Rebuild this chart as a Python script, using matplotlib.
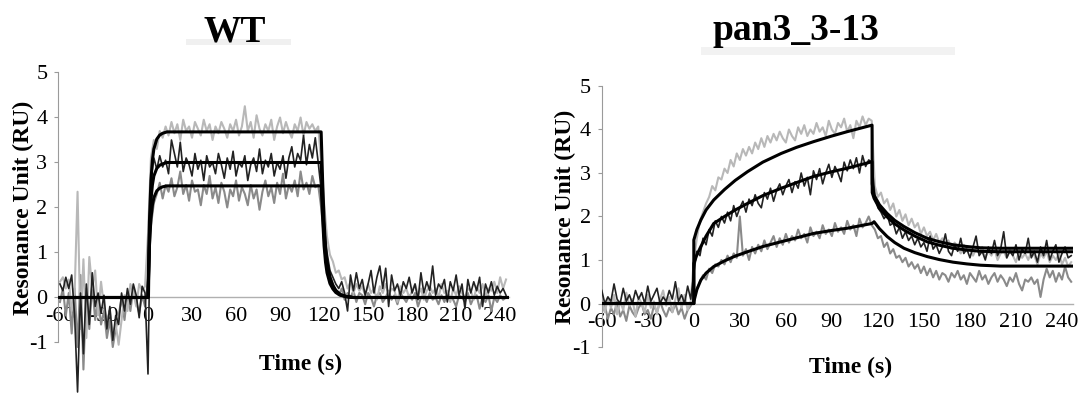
import numpy as np
import matplotlib
matplotlib.use("Agg")
import matplotlib.pyplot as plt
from matplotlib.patches import Rectangle

plt.rcParams['font.family'] = ['Liberation Serif', 'DejaVu Serif']
plt.rcParams['axes.unicode_minus'] = False

# ---------------- WT panel ----------------
t_wt = np.arange(-60, 246, 2)

# light gray trace (high)
wt_hi = [0.35, 0.45, 0.2, 0.4, -0.3, 0.1, 2.35, -0.7, 0.85, -0.9,
         0.9, 0.2, 0.6, -0.4, 0.35, -0.2, -0.5, -0.3, -0.8, -0.6,
         -1.05, -0.5, 0.05, -0.3, 0.3, 0.1, -0.2, 0.3, 0.15, 0.25,
         1.4, 3.1, 3.5, 3.3, 3.7, 3.55, 3.8, 3.6, 3.9, 3.65,
         3.85, 3.5, 3.95, 3.7, 3.8, 3.55, 3.9, 3.75, 3.6, 3.95,
         3.7, 3.85, 3.5, 3.8, 3.65, 3.9, 3.75, 3.55, 3.85, 3.7,
         3.95, 3.6, 3.8, 4.25, 3.7, 3.9, 3.55, 4.05, 3.75, 3.6,
         3.85, 3.7, 3.95, 3.5, 3.8, 4.0, 3.65, 3.9, 3.7, 3.55,
         3.85, 3.7, 4.0, 3.6, 3.9, 3.75, 3.85, 3.7, 3.8,
         3.0, 2.1, 1.35, 0.95, 0.8, 0.55, 0.6, 0.4, 0.45, 0.2,
         0.35, 0.1, 0.3, 0.15, 0.25, 0.05, 0.3, 0.1, 0.2, -0.05,
         0.25, 0.1, 0.3, 0.05, 0.2, 0.15, -0.1, 0.25, 0.1, 0.2,
         0.0, 0.15, 0.3, 0.05, 0.2, -0.05, 0.15, 0.25, 0.1, 0.2,
         0.0, 0.3, 0.1, 0.15, -0.1, 0.2, 0.05, 0.25, 0.1, 0.0,
         0.2, 0.15, -0.05, 0.25, 0.1, 0.3, 0.0, 0.2, 0.15, 0.35,
         0.1, 0.45, 0.2, 0.4]

# black trace (middle)
wt_mid = [0.3, 0.15, 0.45, 0.2, 0.5, -0.4, -2.1, 0.1, -1.25, 0.3,
          -0.6, 0.55, -0.2, 0.1, -0.35, 0.05, -0.7, -0.2, -0.95, -0.4,
          -0.6, 0.1, -0.3, 0.2, -0.15, 0.3, 0.05, -0.45, 0.25, 0.1,
          -1.7, 2.6, 3.1, 2.85, 3.15, 2.9, 3.05, 2.75, 3.5, 3.2,
          2.9, 3.45, 2.8, 3.1, 2.95, 2.7, 3.2, 2.85, 3.05, 2.6,
          3.15, 2.9, 3.0, 2.75, 3.2, 2.95, 2.65, 3.1, 2.85, 3.25,
          2.7, 3.0, 2.9, 3.15, 2.6, 2.95, 3.1, 2.8, 3.3, 2.75,
          3.05, 2.9, 3.2, 2.7, 3.0, 2.85, 3.15, 2.65, 3.1, 3.35,
          2.9, 3.2, 3.05, 3.6, 2.95, 3.4, 3.1, 3.55, 3.0,
          2.4, 1.6, 1.0, 0.6, 0.45, 0.3, 0.2, 0.35, 0.1, -0.3,
          0.5, 0.15, 0.55, 0.2, 0.4, 0.05, 0.3, 0.6, 0.1, 0.45,
          0.7, 0.2, 0.65, -0.2, 0.5, 0.15, 0.3, 0.05, 0.35, 0.2,
          0.45, 0.1, 0.3, -0.05, 0.55, 0.1, 0.35, 0.15, 0.7, 0.05,
          0.3, 0.2, 0.4, -0.1, 0.35, 0.15, 0.5, 0.05, 0.3, -0.25,
          0.4, 0.1, 0.35, 0.15, 0.45, -0.2, 0.3, 0.1, 0.35, 0.05,
          0.25, 0.1, 0.2, 0.05]

# gray trace (low)
wt_lo = [-0.1, 0.2, -0.4, 0.1, -0.8, 0.2, -1.1, 0.5, -1.6, 0.2,
         -0.7, 0.3, -0.5, 0.0, -0.6, -0.3, -0.9, -0.5, -1.1, -0.7,
         -0.4, 0.0, -0.5, 0.1, -0.3, 0.2, -0.1, -0.35, 0.05, -0.2,
         0.4, 1.6, 2.1, 2.3, 2.55, 2.2, 2.5, 2.35, 2.65, 2.25,
         2.45, 2.8, 2.3, 2.5, 2.15, 2.6, 2.35, 2.4, 2.05, 2.5,
         2.3, 2.7, 2.2, 2.45, 2.1, 2.55, 2.35, 2.0, 2.4, 2.25,
         2.6, 2.15, 2.45, 2.3, 2.05, 2.5, 2.2, 2.4, 1.95, 2.35,
         2.6, 2.25, 2.45, 2.1, 2.55, 2.3, 2.75, 2.2, 2.5, 2.35,
         2.6, 2.25, 2.8, 2.4, 2.55, 2.3, 2.7, 2.45, 2.5,
         2.0, 1.3, 0.8, 0.5, 0.3, 0.15, 0.05, 0.2, -0.05, 0.1,
         0.0, 0.15, -0.1, 0.1, 0.05, -0.15, 0.1, 0.0, -0.2, 0.05,
         0.1, -0.1, 0.0, 0.15, -0.05, 0.05, -0.15, 0.1, 0.0, -0.1,
         0.05, -0.05, 0.1, -0.2, 0.0, 0.05, -0.1, 0.1, -0.05, 0.0,
         -0.15, 0.05, -0.1, 0.1, 0.0, -0.05, -0.2, 0.05, 0.0, -0.1,
         0.1, -0.15, 0.0, 0.05, -0.25, 0.0, -0.1, 0.05, -0.3, 0.0,
         -0.1, 0.05, -0.05, 0.0]

# fitted curves
wt_fit_t = [-60, 0, 1, 2, 3, 4, 6, 8, 10, 13, 118, 119, 120, 121, 122,
            124, 126, 128, 131, 135, 140, 246]
wt_fit_hi = [0, 0, 1.7, 2.6, 3.05, 3.3, 3.52, 3.61, 3.65, 3.68, 3.68, 2.6, 1.7,
             1.1, 0.8, 0.45, 0.27, 0.16, 0.07, 0.02, 0, 0]
wt_fit_mid = [0, 0, 1.4, 2.15, 2.5, 2.7, 2.87, 2.94, 2.97, 3.0, 3.0, 2.15, 1.4,
              0.95, 0.68, 0.38, 0.23, 0.13, 0.06, 0.02, 0, 0]
wt_fit_lo = [0, 0, 1.15, 1.75, 2.05, 2.22, 2.37, 2.43, 2.46, 2.48, 2.48, 1.78,
             1.15, 0.78, 0.55, 0.31, 0.19, 0.11, 0.05, 0.02, 0, 0]

# ---------------- pan3_3-13 panel ----------------
t_pan = np.arange(-60, 248, 2)

pan_hi = [0.1, -0.2, 0.15, -0.1, 0.2, -0.25, 0.05, -0.15, 0.25, -0.05,
          0.1, -0.3, 0.15, 0.0, -0.2, 0.2, -0.1, 0.05, -0.25, 0.1,
          0.3, -0.05, 0.15, -0.2, 0.1, 0.35, -0.1, 0.2, -0.15, 0.05,
          1.0, 1.5, 1.9, 2.1, 2.3, 2.45, 2.7, 2.6, 2.9, 2.85,
          3.1, 3.0, 3.3, 3.15, 3.45, 3.3, 3.55, 3.4, 3.6, 3.45,
          3.7, 3.55, 3.8, 3.6, 3.85, 3.7, 3.9, 3.75, 3.95, 3.8,
          3.7, 4.0, 3.85, 3.75, 4.05, 3.9, 4.1, 3.85, 4.0, 3.9,
          4.15, 3.95, 4.05, 3.85, 4.2, 4.0, 3.9, 4.15, 4.05, 4.25,
          3.95, 4.1, 3.8, 4.2, 4.05, 4.3, 4.1, 4.25, 4.2,
          2.7, 2.45, 2.55, 2.3, 2.4, 2.15, 2.3, 2.0, 2.15, 1.9,
          2.05, 1.8, 1.95, 1.75, 1.85, 1.6, 1.75, 1.55, 1.65, 1.45,
          1.6, 1.4, 1.5, 1.35, 1.45, 1.25, 1.4, 1.3, 1.15, 1.35,
          1.2, 1.3, 1.1, 1.25, 1.15, 1.3, 1.05, 1.2, 1.1, 1.25,
          1.0, 1.15, 1.2, 1.05, 1.25, 1.1, 0.95, 1.2, 1.05, 1.15,
          1.0, 1.2, 1.1, 0.9, 1.15, 1.05, 1.2, 0.95, 1.1, 1.0,
          1.15, 0.9, 1.05, 0.85, 0.95]

pan_mid = [0.3, 0.0, 0.15, 0.05, 0.45, 0.1, 0.0, 0.35, 0.05, 0.2,
           0.0, 0.3, 0.1, 0.25, 0.0, 0.4, 0.05, 0.2, 0.35, 0.0,
           0.15, 0.05, 0.3, 0.1, 0.5, 0.05, 0.2, 0.0, 0.4, 0.1,
           0.7, 1.2, 1.1, 1.5, 1.35, 1.7, 1.55, 1.9, 1.75, 2.0,
           1.85, 2.1, 1.9, 2.25, 2.0, 2.2, 2.35, 2.1, 2.4, 2.25,
           2.5, 2.3, 2.2, 2.55, 2.4, 2.65, 2.35, 2.6, 2.75, 2.5,
           2.7, 2.85, 2.55, 2.8, 2.65, 3.0, 2.7, 2.9, 2.5, 3.05,
           2.85, 3.1, 2.75, 3.0, 3.2, 2.9, 3.15, 3.0, 2.8, 3.25,
           3.05, 3.3, 3.1, 3.35, 3.0, 3.4, 3.15, 3.3, 3.25,
           2.5, 2.2, 2.1, 1.95, 2.05, 1.8, 1.85, 1.6, 1.75, 1.5,
           1.65, 1.45, 1.55, 1.35, 1.5, 1.3, 1.4, 1.2, 1.55, 1.25,
           1.35, 1.15, 1.3, 1.6, 1.2, 1.1, 1.35, 1.2, 1.5, 1.15,
           1.25, 1.05, 1.3, 1.55, 1.1, 1.2, 1.0, 1.3, 1.15, 1.45,
           1.1, 1.25, 1.65, 1.05, 1.2, 1.1, 1.35, 1.0, 1.25, 1.15,
           1.5, 1.05, 1.2, 0.95, 1.3, 1.1, 1.45, 1.0, 1.2, 1.35,
           0.95, 1.15, 1.3, 1.05, 1.1]

pan_lo = [-0.2, -0.05, -0.35, -0.1, -0.25, 0.05, -0.3, -0.15, -0.4, -0.05,
          -0.2, -0.3, -0.1, 0.0, -0.25, -0.15, -0.35, -0.05, -0.2, 0.05,
          -0.15, -0.3, -0.1, -0.2, 0.0, -0.25, -0.1, -0.35, -0.15, -0.05,
          0.1, 0.35, 0.5, 0.65, 0.55, 0.8, 0.7, 0.9, 0.85, 1.0,
          0.9, 1.1, 0.95, 1.15, 1.05, 2.0, 1.1, 1.25, 1.0, 1.3,
          1.15, 1.35, 1.2, 1.45, 1.25, 1.4, 1.55, 1.3, 1.5, 1.35,
          1.6, 1.4, 1.55, 1.45, 1.7, 1.5, 1.6, 1.4, 1.75, 1.55,
          1.65, 1.5, 1.8, 1.6, 1.7, 1.55, 1.85, 1.65, 1.75, 1.6,
          1.9, 1.7, 1.8, 1.55, 1.95, 1.75, 1.85, 2.0, 1.8,
          1.7, 1.5, 1.55, 1.3, 1.4, 1.15, 1.25, 1.05, 1.1, 0.95,
          1.05, 0.85, 0.95, 0.8, 0.9, 0.7, 0.85, 0.65, 0.8, 0.6,
          0.75, 0.55, 0.7, 0.65, 0.5, 0.7, 0.6, 0.75, 0.55, 0.65,
          0.45, 0.7, 0.6, 0.5, 0.75, 0.55, 0.65, 0.45, 0.6, 0.7,
          0.5, 0.65, 0.55, 0.4, 0.6, 0.5, 0.7, 0.45, 0.3, 0.55,
          0.5, 0.6, 0.45, 0.55, 0.15, 0.55, 0.8, 0.6, 0.75, 0.5,
          0.7, 0.55, 0.85, 0.6, 0.5]

pan_fit_t = [-60, 0, 0.01, 2, 4.6, 8, 13, 20, 27, 35, 45, 57, 67, 78, 90, 100,
             116.2, 116.3, 117.5, 121, 126, 131, 137, 144, 152, 160, 169, 178,
             187, 200, 215, 248]
pan_fit_hi = [0, 0, 1.46, 1.7, 1.92, 2.15, 2.38, 2.62, 2.83, 3.03, 3.25, 3.45,
              3.59, 3.72, 3.85, 3.95, 4.10, 2.75, 2.49, 2.27, 2.07, 1.91, 1.77,
              1.63, 1.50, 1.42, 1.35, 1.31, 1.28, 1.27, 1.27, 1.27]
pan_fit_mid = [0, 0, 0.92, 1.12, 1.31, 1.55, 1.84, 2.0, 2.15, 2.30, 2.48, 2.65,
               2.78, 2.92, 3.03, 3.11, 3.26, 2.55, 2.42, 2.19, 1.99, 1.83, 1.69,
               1.55, 1.42, 1.34, 1.27, 1.23, 1.20, 1.19, 1.19, 1.19]
pan_fit_lo = [0, 0, 0.04, 0.32, 0.54, 0.70, 0.85, 0.98, 1.09, 1.19, 1.31, 1.42,
              1.51, 1.61, 1.68, 1.73, 1.84, 1.84, 1.88, 1.72, 1.54, 1.40, 1.27,
              1.17, 1.08, 1.01, 0.95, 0.91, 0.88, 0.86, 0.86, 0.86]

LIGHT = '#b8b8b8'
MID = '#8a8a8a'
DARK = '#222222'


def style_axes(ax, xlim, ylim):
    ax.set_xlim(*xlim)
    ax.set_ylim(*ylim)
    for s in ['top', 'right']:
        ax.spines[s].set_visible(False)
    ax.spines['left'].set_bounds(-1, 5)
    ax.spines['left'].set_color('#9a9a9a')
    ax.spines['left'].set_linewidth(0.8)
    ax.spines['bottom'].set_position(('data', 0))
    ax.spines['bottom'].set_color('#b0b0b0')
    ax.spines['bottom'].set_linewidth(1.0)
    ax.spines['bottom'].set_zorder(0.5)
    ax.set_yticks(range(-1, 6))
    ax.set_xticks(range(-60, 241, 30))
    ax.tick_params(axis='y', length=3, color='#9a9a9a', labelsize=16, pad=5)
    ax.tick_params(axis='x', length=0, labelsize=16, pad=7)
    ax.patch.set_visible(False)


fig = plt.figure(figsize=(10.79, 3.95), dpi=100)

# faint scan smudges under the titles
fig.patches.append(Rectangle((0.172, 0.885), 0.098, 0.016, transform=fig.transFigure,
                             facecolor='#f0f0f0', edgecolor='none', zorder=0))
fig.patches.append(Rectangle((0.650, 0.862), 0.235, 0.018, transform=fig.transFigure,
                             facecolor='#f2f2f2', edgecolor='none', zorder=0))

ax1 = fig.add_axes([0.0542, 0.0019, 0.4175, 0.8146])
ax1.plot(t_wt, wt_lo, color=MID, lw=1.5, zorder=2)
ax1.plot(t_wt, wt_hi, color=LIGHT, lw=1.5, zorder=2)
ax1.plot(t_wt, wt_mid, color=DARK, lw=1.2, zorder=3)
for f in (wt_fit_hi, wt_fit_mid, wt_fit_lo):
    ax1.plot(wt_fit_t, f, color='black', lw=2.2, zorder=4)
style_axes(ax1, (-61, 246), (-2.15, 5))

ax2 = fig.add_axes([0.5577, 0.116, 0.4372, 0.6663])
ax2.plot(t_pan, pan_lo, color=MID, lw=1.5, zorder=2)
ax2.plot(t_pan, pan_hi, color=LIGHT, lw=1.5, zorder=2)
ax2.plot(t_pan, pan_mid, color=DARK, lw=1.2, zorder=3)
for f in (pan_fit_hi, pan_fit_mid, pan_fit_lo):
    ax2.plot(pan_fit_t, f, color='black', lw=2.2, zorder=4)
style_axes(ax2, (-59.4, 247.5), (-1.05, 5))

# titles and axis labels
fig.text(0.2178, 0.8937, 'WT', fontsize=27, fontweight='bold', ha='center', va='baseline')
fig.text(0.7377, 0.8987, 'pan3_3-13', fontsize=27, fontweight='bold', ha='center', va='baseline')
fig.text(0.0213, 0.4747, 'Resonance Unit (RU)', fontsize=17, fontweight='bold',
         rotation=90, ha='center', va='center')
fig.text(0.5236, 0.452, 'Resonance Unit (RU)', fontsize=17, fontweight='bold',
         rotation=90, ha='center', va='center')
fig.text(0.279, 0.078, 'Time (s)', fontsize=17, fontweight='bold', ha='center', va='center')
fig.text(0.7887, 0.070, 'Time (s)', fontsize=17, fontweight='bold', ha='center', va='center')

fig.savefig('out.png', dpi=100)
